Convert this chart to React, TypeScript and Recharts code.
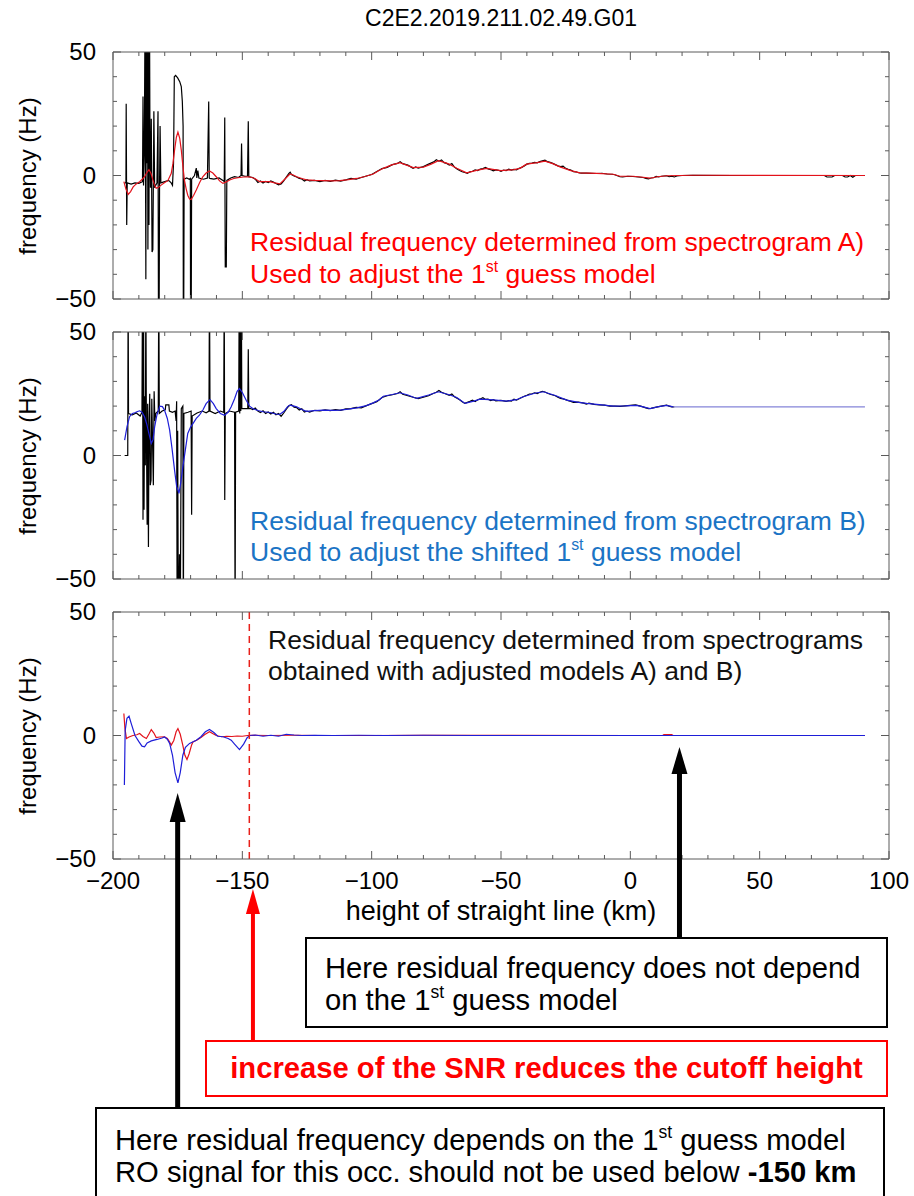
import { LineChart, Line, XAxis, YAxis, ReferenceLine } from "recharts";

type Pt = [number, number];

// height of straight line (km) / residual frequency (Hz)
const X_TICKS = [
  -200, -190, -180, -170, -160, -150, -140, -130, -120, -110, -100, -90, -80, -70, -60, -50,
  -40, -30, -20, -10, 0, 10, 20, 30, 40, 50, 60, 70, 80, 90, 100,
];
const Y_TICKS = [-50, -40, -30, -20, -10, 0, 10, 20, 30, 40, 50];

// panel A: raw residual (black) and smoothed (red)
const blackA: Pt[] = [
  [-195.5, -3], [-195.0, -3], [-194.9, 29], [-194.7, -20], [-194.5, -3], [-193, -3.5], [-191.5, -3],
  [-190, -3.2], [-188.6, -2.5], [-188.4, 32], [-188.2, -4], [-187.9, 8], [-187.6, 70], [-187.3, -42],
  [-187.1, 70], [-186.9, 5], [-186.7, 70], [-186.5, -30], [-186.3, 70], [-186.1, -20], [-185.9, 70],
  [-185.7, 10], [-185.5, -5], [-185.2, 23], [-184.9, -31], [-184.6, -30], [-184.4, -3], [-184.2, 26],
  [-183.9, -5], [-183.5, -4], [-183.0, -3], [-182.6, 26], [-182.4, -70], [-182.2, -70], [-182.0, -4],
  [-181.8, 20], [-181.5, -3], [-180, -2.5], [-178.5, -2], [-177.5, -3], [-177.0, -4], [-176.6, 5],
  [-176.3, 40], [-175.8, 40.5], [-175.0, 39.5], [-174.2, 38], [-173.6, 36], [-173.2, 30], [-172.9, 20],
  [-172.8, -70], [-172.7, -70], [-172.5, -1.5], [-171.5, -1], [-170.5, -1.5], [-170.1, -1.2],
  [-170.0, -70], [-169.8, -70], [-169.6, -1.5], [-168.5, 0], [-167.8, 3], [-167.6, -1], [-167.2, 2],
  [-166.8, -1], [-165, -1.5], [-163.5, -1], [-163.0, 30], [-162.8, -1], [-162.6, -1.2], [-161, -1.5],
  [-159, -1], [-157.5, -2], [-157.0, -2.5], [-156.8, 23.5], [-156.6, -37], [-156.4, -37], [-156.2, -37],
  [-156.0, -2], [-154.5, -1], [-153, -0.5], [-151.5, -0.8], [-150.5, 0], [-150.3, 13], [-150.1, 0],
  [-149, -0.3], [-148, -0.2], [-147.7, 22], [-147.5, -0.5], [-146, -0.8], [-145, -1.5], [-144, -2.8],
  [-143, -2.2], [-142, -3], [-141, -2.4], [-140, -2.9], [-139, -2.2], [-138, -2.6], [-137, -3.2],
  [-136, -3.8], [-135, -3.4], [-134, -2.2], [-133, -0.6], [-132, 0.8], [-131.5, 1.3], [-131, 0.4],
  [-130, -0.2], [-129, -0.6], [-128, -1.2], [-127, -1.4], [-126, -2.2], [-125, -1.7], [-124, -2.2],
  [-122, -2.0], [-120, -2.5], [-118, -2.0], [-116, -2.4], [-114, -1.9], [-112, -2.3], [-110, -1.8],
  [-108, -1.2], [-106, -1.5], [-104, -0.8], [-102, -0.2], [-100, 0.4], [-98, 1.6], [-96, 2.8],
  [-94, 3.3], [-92, 4.4], [-90, 4.9], [-89, 5.6], [-88, 4.8], [-86, 4.2], [-84, 2.9], [-83, 3.5],
  [-82, 3.0], [-80, 3.6], [-78, 4.6], [-76, 5.5], [-75, 6.4], [-74, 5.8], [-73, 6.3], [-72, 5.2],
  [-71, 4.9], [-70, 4.2], [-69, 4.8], [-68, 3.4], [-67, 2.6], [-66, 2.0], [-65, 1.5], [-64, 1.2],
  [-63, 0.9], [-62, 1.5], [-61, 1.7], [-60, 2.3], [-59, 2.0], [-58, 2.6], [-57, 2.8], [-56, 3.3],
  [-55, 2.7], [-54, 2.4], [-53, 1.9], [-52, 2.3], [-51, 2.1], [-50, 1.7], [-49, 2.2], [-48, 2.0],
  [-47, 2.6], [-46, 2.2], [-45, 2.5], [-44, 2.3], [-43, 2.9], [-42, 3.3], [-41, 3.9], [-40, 4.6],
  [-39, 4.9], [-38, 5.0], [-37, 5.3], [-36, 5.1], [-35, 5.6], [-34, 5.9], [-33, 6.2], [-32, 5.6],
  [-31, 5.3], [-30, 4.9], [-29, 4.4], [-28, 3.9], [-27, 3.6], [-26, 3.8], [-25, 2.9], [-24, 2.5],
  [-23, 2.2], [-22, 1.6], [-21, 1.5], [-20, 1.1], [-19, 1.0], [-17, 1.0], [-15, 0.9], [-13, 0.8],
  [-11, 0.9], [-9, 0.6], [-7, 0.5], [-6, 0.3], [-5, -0.1], [-4, -0.5], [-3, -0.6], [-1, -0.3],
  [1, -0.4], [3, -0.6], [5, -0.8], [6, -1.2], [7, -1.4], [8, -1.0], [9, -0.9], [10, -0.4],
  [11, -0.6], [12, -0.3], [14, -0.1], [15, -0.5], [16, -0.3], [17, -0.6], [18, -0.2], [20, 0],
  [24, 0.1], [40, 0], [60, 0], [75, 0], [76, -0.6], [78, -0.6], [79, 0], [82, 0], [83, -0.6],
  [84, -0.6], [85, 0], [86, -0.7], [87, 0], [90.7, 0],
];
const redA: Pt[] = [
  [-195.8, -2.5], [-195, -5.5], [-194.1, -7.6], [-193.2, -6.5], [-192.2, -4.6], [-191, -3.4],
  [-189.7, -2.5], [-188.7, -1.5], [-187.8, -0.5], [-187, 1], [-186.1, 2.4], [-185.3, 0.8],
  [-184.6, -1.8], [-183.9, -4], [-183.3, -5.2], [-182.4, -4.8], [-181.4, -3.9], [-180, -2.8],
  [-178.8, -2.1], [-177.5, 0.8], [-176.8, 5], [-176.2, 10.3], [-175.5, 15.5], [-174.9, 17.6],
  [-174.2, 15], [-173.6, 10.3], [-173, 4], [-172.4, -1.8], [-171.7, -5.5], [-171.1, -8],
  [-170.4, -9.5], [-169.8, -9.7], [-168.8, -8], [-167.8, -5.9], [-166.5, -2.8], [-165.3, -0.5],
  [-164, 1], [-162.7, 1.8], [-161.4, 1], [-160.1, -0.5], [-158.8, -2.2], [-157.5, -3.2],
  [-156.2, -2.6], [-154.9, -1.8], [-153.3, -1.2], [-151.7, -0.9], [-149.5, -0.6], [-147.2, -0.5],
  [-145.2, -1.2], [-143.3, -2.5], [-141.3, -2.5], [-139.4, -2.5], [-137.5, -3], [-135.5, -3.4],
  [-133.6, -1.5], [-131.6, 0.6], [-130.3, 0.2], [-129, -0.5], [-127, -1.2], [-125.2, -1.8],
  [-122, -2], [-118.7, -2.1], [-115.5, -2.2], [-112.3, -2.1], [-109, -1.7], [-105.8, -1.2],
  [-102.6, -0.4], [-99.4, 0.6], [-97.5, 1.8], [-95.5, 2.9], [-92.5, 4.2], [-89.1, 5.2],
  [-86.5, 4.2], [-83.9, 3.2], [-80, 3.4], [-77, 4.6], [-74.2, 6], [-72, 5.3], [-70, 4.6],
  [-67.1, 2.9], [-63.3, 1.1], [-59, 2.2], [-55.6, 2.9], [-50, 2.0], [-45, 2.4], [-42.7, 2.9],
  [-40.1, 4.6], [-36, 5.2], [-33, 5.8], [-30, 4.8], [-27.2, 3.5], [-23, 2.0], [-19.5, 1.1],
  [-13, 0.9], [-6.6, 0.5], [-4, -0.3], [1.1, -0.3], [4, -0.6], [7.6, -1.1], [10.5, -0.5],
  [14, -0.1], [24.3, 0.1], [90.7, 0],
];

// panel B: raw residual (black) and smoothed (blue)
const blackB: Pt[] = [
  [-195.5, 0], [-194.3, 0], [-194.15, 70], [-194.0, 17], [-192.5, 16.5], [-191, 17.2], [-189.5, 16],
  [-188.8, 17.5], [-188.6, 70], [-188.4, -26], [-188.2, 70], [-188.0, -22], [-187.8, 24], [-187.5, -4],
  [-187.3, 70], [-187.1, 12], [-186.8, -28], [-186.6, 21], [-186.3, -37], [-186.1, 10], [-185.8, 25],
  [-185.6, -12], [-185.3, -10], [-185.0, 23], [-184.7, 5], [-184.4, -12], [-184.1, 26], [-183.8, 14],
  [-183.5, 17], [-182.5, 18], [-182.3, 70], [-182.1, 17], [-181, 18], [-179.8, 18.5], [-179.6, 20.5],
  [-178.4, 20.5], [-178.2, 18], [-177, 17.5], [-176, 18], [-175.6, 14], [-175.4, 22], [-175.2, -70],
  [-175.0, 10], [-174.8, -50], [-174.6, -70], [-174.3, -40], [-174.0, -70], [-173.6, 19], [-173.0, 20],
  [-172.8, -70], [-172.6, 17], [-171, 17.5], [-169.8, 18], [-169.6, -24], [-169.4, 16], [-167.5, 17.2],
  [-165.5, 18], [-164, 17.3], [-162.9, 18], [-162.7, 70], [-162.5, 18], [-160.5, 17], [-158.5, 18],
  [-157.2, 17.5], [-157.0, 70], [-156.8, -18], [-156.6, 17], [-155, 18], [-153, 17.5], [-152.8, -70],
  [-152.6, 17.5], [-151.4, 18], [-151.2, 70], [-151.0, 17], [-150.8, 70], [-150.6, 18], [-150.4, 70],
  [-150.2, 19], [-148.5, 19], [-147.9, 19], [-147.7, 43], [-147.5, 19], [-146.8, 19], [-146, 18.6],
  [-145, 19.2], [-144, 18.0], [-143, 17.4], [-142, 18.1], [-141, 17.0], [-140, 17.6], [-139, 16.8],
  [-138, 17.5], [-137, 16.5], [-136, 17.0], [-135, 15.9], [-134, 17.2], [-133, 18.8], [-132, 20.1],
  [-131, 20.6], [-130, 19.6], [-129, 19.4], [-128, 18.4], [-127, 18.9], [-126, 17.6], [-125, 18.0],
  [-124, 17.6], [-122, 18.3], [-120, 18.1], [-118, 18.5], [-116, 18.2], [-114, 18.6], [-112, 18.3],
  [-110, 18.9], [-108, 19.0], [-106, 19.5], [-104, 19.3], [-102, 20.2], [-100, 21.0], [-98, 21.8],
  [-96, 23.5], [-94, 24.2], [-92, 24.6], [-90, 25.1], [-89, 25.8], [-88, 24.8], [-86, 24.2],
  [-84, 23.6], [-82, 23.0], [-80, 23.6], [-78, 24.2], [-76, 25.2], [-75, 25.6], [-74, 26.3],
  [-73, 25.6], [-72, 25.2], [-70, 24.4], [-69, 24.9], [-68, 23.8], [-67, 23.2], [-66, 22.6],
  [-65, 21.8], [-64, 21.1], [-63, 21.5], [-62, 21.9], [-61, 22.4], [-60, 21.8], [-59, 22.6],
  [-58, 22.9], [-57, 23.4], [-56, 22.7], [-55, 22.8], [-54, 22.2], [-53, 22.6], [-52, 22.1],
  [-50, 22.3], [-48, 21.9], [-47, 22.2], [-46, 22.0], [-45, 22.8], [-44, 22.4], [-43, 23.0],
  [-42, 23.5], [-41, 24.0], [-40, 24.4], [-39, 24.9], [-38, 25.0], [-37, 25.4], [-36, 25.1],
  [-35, 25.6], [-34, 26.0], [-33, 25.7], [-32, 25.2], [-31, 24.8], [-30, 24.5], [-29, 24.2],
  [-28, 23.6], [-27, 23.1], [-26, 22.9], [-25, 22.6], [-24, 22.2], [-23, 21.9], [-22, 21.5],
  [-20, 21.6], [-18, 21.2], [-17, 20.8], [-16, 21.2], [-14, 20.7], [-12, 20.5], [-10, 20.4],
  [-8, 20.0], [-6, 20.0], [-4, 19.9], [-2, 20.1], [0, 20.3], [2, 20.5], [4, 20.0], [6, 19.3],
  [7, 19.0], [8, 19.1], [10, 19.6], [12, 20.0], [14, 20.4], [15, 20.0], [16, 19.7], [17, 19.7],
];
const blueB: Pt[] = [
  [-195.5, 6.2], [-194.6, 11.6], [-193.6, 15.7], [-192.5, 17], [-191.6, 17.3], [-190.5, 17.8],
  [-189.7, 18.1], [-188.8, 17.5], [-187.8, 15.7], [-186.9, 12.5], [-186.1, 8.9], [-185.2, 4.9],
  [-184.5, 6.5], [-183.9, 11.6], [-183, 16.5], [-181.9, 20], [-180.9, 19.8], [-180.1, 18.4],
  [-179, 15], [-178.1, 10.3], [-177.2, 3], [-176.2, -5.9], [-175.4, -12.5], [-174.5, -15.3],
  [-173.8, -11], [-173, -4.6], [-172, 2.5], [-171.1, 8.9], [-170, 11.5], [-169.1, 12.9],
  [-167.8, 15], [-166.6, 16.3], [-165.2, 18.5], [-164, 21], [-162.5, 22.6], [-161.2, 21],
  [-160.1, 19], [-158.5, 17], [-156.9, 16.3], [-155.5, 17.5], [-154.3, 19.7], [-153, 23],
  [-152, 26], [-151.1, 27.1], [-150, 25.5], [-148.5, 22.4], [-147.2, 20], [-146, 19],
  [-144, 18.2], [-142, 17.7], [-140, 17.5], [-138.9, 17.3], [-137, 16.8], [-135.6, 16.6],
  [-134, 17.8], [-132.5, 19.8], [-131.6, 20.4], [-130, 20], [-129, 19.7], [-127, 18.6],
  [-125.2, 17.9], [-122, 18.2], [-118.7, 18.4], [-115, 18.3], [-112.3, 18.4], [-109, 18.8],
  [-105.8, 19.3], [-102, 20.2], [-99.4, 21.3], [-97, 22.6], [-95.5, 24], [-92, 24.7],
  [-89.1, 25.4], [-86, 24.5], [-82.6, 23.1], [-78, 24.5], [-74.2, 25.8], [-70, 24.6],
  [-67.1, 23.5], [-63.9, 21.1], [-60.5, 22], [-58.1, 22.8], [-53, 22.5], [-47.8, 22],
  [-44, 22.6], [-41.4, 23.8], [-37, 25.2], [-33.6, 25.8], [-29, 24.3], [-24.6, 22.4],
  [-20, 21.5], [-16.9, 21.1], [-12, 20.6], [-6.6, 20], [-2, 20.1], [2.4, 20.3], [5, 19.7],
  [7.6, 19], [11, 19.8], [14, 20.3], [16.6, 19.7],
];
// the model-only tail of B, drawn paler in the reference
const blueBTail: Pt[] = [[16.6, 19.7], [90.7, 19.7]];

// panel C: residuals with adjusted models A) (red) and B) (blue)
const redC: Pt[] = [
  [-195.8, 8.9], [-195.4, 3], [-194.8, -1.2], [-193.8, -0.6], [-192.3, 0], [-190.8, 0.3],
  [-189.7, 0.8], [-188.4, -0.4], [-187.1, -1.2], [-186.1, 0.6], [-185.2, 2.4], [-184.2, 1],
  [-183.3, -0.8], [-182, -0.6], [-180.1, -0.5], [-179, -1.2], [-178.2, -2.5], [-177.5, -3.9],
  [-176.5, -2], [-175.6, 1.5], [-174.9, 2.8], [-174, 0.5], [-173, -4], [-172.2, -8],
  [-171.4, -9.7], [-170.6, -7.5], [-169.6, -3.8], [-169.1, -2.6], [-167.5, -1.8], [-166, -0.8],
  [-164.5, 0.4], [-162.7, 1.5], [-161.5, 0.8], [-160.1, 0], [-158, -0.5], [-156, -0.3],
  [-154, -0.4], [-152, -0.2], [-150, -0.3], [-148, 0], [-146, 0.1], [-140, 0], [-130, 0.1],
  [-120, 0], [-100, 0], [-80, 0.1], [0, 0], [12.5, 0], [13, 0.4], [16, 0.4], [16.5, 0], [90.7, 0],
];
const blueC: Pt[] = [
  [-195.6, -20], [-195.3, 2], [-194.6, 7], [-193.8, 7.8], [-193, 5], [-191.5, 0], [-190, -2.5],
  [-188.8, -4.3], [-187.8, -4.6], [-186.8, -3], [-185.2, -2.2], [-183, -1.6], [-181, -1],
  [-180.1, -0.6], [-179, -1.5], [-178.1, -3.2], [-177, -8], [-176, -15], [-174.9, -19.2],
  [-174, -15], [-173, -8], [-172, -4.8], [-170.4, -3.2], [-169, -2.5], [-167.8, -1.9],
  [-166, -0.5], [-164.3, 1.5], [-162.7, 2.4], [-161, 1.2], [-159.5, -0.3], [-157.5, -0.5],
  [-155.5, -1.2], [-154.3, -1.9], [-153, -3.5], [-151.1, -5.7], [-149.5, -3.5], [-148.2, -1],
  [-147.2, 0], [-145, 0.2], [-142, -0.3], [-139, 0.1], [-136, -0.3], [-133, 0.5], [-130, 0.2],
  [-127, 0], [-122, 0.1], [-115, 0], [-105, 0.1], [-95, 0], [-80, 0.1], [-60, 0], [0, 0], [90.7, 0],
];

const CUTOFF_KM = -147.3;
const ARROW_LOW_KM = -175;
const ARROW_HIGH_KM = 19;
const ARROW_SNR_KM = -145.9;

const W = 914;
const LEFT = 113;
const PLOT_W = 776;
const PLOT_H = 247;
const X_MIN = -200;
const X_MAX = 100;
const FRAME = "#5a5a5a";
const FONT = '"Liberation Sans", Arial, Helvetica, sans-serif';
const RED = "#ff0000";
const BLUE_TEXT = "#1b74c5";

const kmToPx = (km: number) => LEFT + ((km - X_MIN) / (X_MAX - X_MIN)) * PLOT_W;
const rows = (pts: Pt[]) => pts.map(([km, hz]) => ({ km, hz }));
const fmt = (v: number) => (v < 0 ? "\u2212" + Math.abs(v) : String(v));

const xTick = (side: "bottom" | "top", labels: boolean) => (p: any) => {
  const v = p.payload.value;
  const major = v % 50 === 0;
  const len = major ? 8 : 4;
  const dir = side === "bottom" ? -1 : 1;
  return (
    <g>
      <line x1={p.x} x2={p.x} y1={p.y} y2={p.y + dir * len} stroke={FRAME} />
      {labels && major && (
        <text x={p.x} y={p.y + 30} textAnchor="middle" fontSize={24} fontFamily={FONT} fill="#000">
          {fmt(v)}
        </text>
      )}
    </g>
  );
};

const yTick = (side: "left" | "right") => (p: any) => {
  const v = p.payload.value;
  const major = v % 50 === 0;
  const len = major ? 8 : 4;
  const dir = side === "left" ? 1 : -1;
  return (
    <g>
      <line x1={p.x} x2={p.x + dir * len} y1={p.y} y2={p.y} stroke={FRAME} />
      {side === "left" && major && (
        <text x={p.x - 17} y={p.y + 8} textAnchor="end" fontSize={24} fontFamily={FONT} fill="#000">
          {fmt(v)}
        </text>
      )}
    </g>
  );
};

type Series = { pts: Pt[]; color: string; width: number };

// axes get a 1px band (zero-size axes are not drawn), so margins are 1px smaller
function Panel({ top, series, xLabels, cutoff }: { top: number; series: Series[]; xLabels?: boolean; cutoff?: number }) {
  const padTop = 20;
  const padBottom = xLabels ? 50 : 16;
  return (
    <div style={{ position: "absolute", left: 0, top: top - padTop }}>
      <LineChart
        width={W}
        height={PLOT_H + padTop + padBottom}
        margin={{ top: padTop - 1, right: W - LEFT - PLOT_W - 1, bottom: padBottom - 1, left: LEFT - 1 }}
      >
        <XAxis xAxisId="b" type="number" dataKey="km" domain={[X_MIN, X_MAX]} allowDataOverflow ticks={X_TICKS}
          interval={0} height={1} tickSize={0} tickMargin={0} tickLine={false}
          axisLine={{ stroke: FRAME }} tick={xTick("bottom", !!xLabels)} />
        <XAxis xAxisId="t" orientation="top" type="number" dataKey="km" domain={[X_MIN, X_MAX]} allowDataOverflow
          ticks={X_TICKS} interval={0} height={1} tickSize={0} tickMargin={0} tickLine={false}
          axisLine={{ stroke: FRAME }} tick={xTick("top", false)} />
        <YAxis yAxisId="l" type="number" domain={[-50, 50]} allowDataOverflow ticks={Y_TICKS} interval={0}
          width={1} tickSize={0} tickMargin={0} tickLine={false} axisLine={{ stroke: FRAME }} tick={yTick("left")} />
        <YAxis yAxisId="r" orientation="right" type="number" domain={[-50, 50]} allowDataOverflow ticks={Y_TICKS}
          interval={0} width={1} tickSize={0} tickMargin={0} tickLine={false} axisLine={{ stroke: FRAME }}
          tick={yTick("right")} />
        {series.map((s, i) => (
          <Line key={i} xAxisId="b" yAxisId="l" data={rows(s.pts)} dataKey="hz" type="linear"
            stroke={s.color} strokeWidth={s.width} dot={false} activeDot={false} isAnimationActive={false} />
        ))}
        {cutoff !== undefined && (
          <ReferenceLine xAxisId="b" yAxisId="l" x={cutoff} stroke="#e8201a" strokeWidth={1.5} strokeDasharray="7 5" />
        )}
      </LineChart>
      <div style={{
        position: "absolute", left: 28, top: padTop + PLOT_H / 2, transform: "translate(-50%, -50%) rotate(-90deg)",
        fontFamily: FONT, fontSize: 24, whiteSpace: "nowrap",
      }}>
        frequency (Hz)
      </div>
    </div>
  );
}

const sup = (t: string) => (
  <span style={{ fontSize: "0.6em", verticalAlign: "0.7em", lineHeight: 0 }}>{t}</span>
);

function Arrow({ x, tip, base, color, shaft, head, headLen }: { x: number; tip: number; base: number; color: string; shaft: number; head: number; headLen: number }) {
  return (
    <g>
      <line x1={x} x2={x} y1={base} y2={tip + headLen - 1} stroke={color} strokeWidth={shaft} />
      <polygon points={`${x},${tip} ${x - head / 2},${tip + headLen} ${x + head / 2},${tip + headLen}`} fill={color} />
    </g>
  );
}

export default function App() {
  const text = { position: "absolute" as const, fontFamily: FONT, whiteSpace: "nowrap" as const };
  return (
    <div style={{ position: "absolute", left: 0, top: 0, width: W, height: 1196, overflow: "hidden", background: "#fff" }}>
      <div style={{ ...text, left: LEFT, width: PLOT_W, top: 5, fontSize: 23, textAlign: "center" }}>
        C2E2.2019.211.02.49.G01
      </div>

      <Panel top={52} series={[{ pts: blackA, color: "#000", width: 1.2 }, { pts: redA, color: "#e3121b", width: 1.2 }]} />
      <Panel top={332} series={[
        { pts: blackB, color: "#000", width: 1.2 },
        { pts: blueB, color: "#1e1ed8", width: 1.2 },
        { pts: blueBTail, color: "#8484d8", width: 1.4 },
      ]} />
      <Panel top={612} xLabels cutoff={CUTOFF_KM}
        series={[{ pts: redC, color: "#e3121b", width: 1.2 }, { pts: blueC, color: "#1e1ed8", width: 1.2 }]} />

      <div style={{ ...text, left: LEFT, width: PLOT_W, top: 896, fontSize: 27, textAlign: "center" }}>
        height of straight line (km)
      </div>

      <div style={{ ...text, left: 250, top: 226, fontSize: 26.5, lineHeight: "32px", color: RED }}>
        Residual frequency determined from spectrogram A)<br />
        Used to adjust the 1{sup("st")} guess model
      </div>
      <div style={{ ...text, left: 250, top: 506, fontSize: 26.5, lineHeight: "31px", color: BLUE_TEXT }}>
        Residual frequency determined from spectrogram B)<br />
        Used to adjust the shifted 1{sup("st")} guess model
      </div>
      <div style={{ ...text, left: 268, top: 625, fontSize: 26.5, lineHeight: "31px", color: "#111" }}>
        Residual frequency determined from spectrograms<br />
        obtained with adjusted models A) and B)
      </div>

      <svg width={W} height={1196} style={{ position: "absolute", left: 0, top: 0, pointerEvents: "none" }}>
        <Arrow x={kmToPx(ARROW_LOW_KM)} tip={793} base={1108} color="#000" shaft={5} head={16} headLen={29} />
        <Arrow x={kmToPx(ARROW_HIGH_KM)} tip={747} base={938} color="#000" shaft={5} head={16} headLen={27} />
        <Arrow x={kmToPx(ARROW_SNR_KM)} tip={889} base={1041} color={RED} shaft={4} head={14} headLen={25} />
      </svg>

      <div style={{
        position: "absolute", left: 305, top: 937, width: 583, height: 91, border: "2px solid #000",
        fontFamily: FONT, fontSize: 29.2, lineHeight: "32px", padding: "13px 0 0 18px", boxSizing: "border-box",
        whiteSpace: "nowrap", background: "#fff",
      }}>
        Here residual frequency does not depend<br />
        on the 1{sup("st")} guess model
      </div>
      <div style={{
        position: "absolute", left: 205, top: 1040, width: 683, height: 57, border: `2px solid ${RED}`,
        fontFamily: FONT, fontSize: 29.2, fontWeight: 700, color: RED, lineHeight: "53px", textAlign: "center",
        boxSizing: "border-box", whiteSpace: "nowrap", background: "#fff",
      }}>
        increase of the SNR reduces the cutoff height
      </div>
      <div style={{
        position: "absolute", left: 95, top: 1107, width: 790, height: 110, border: "2px solid #000",
        fontFamily: FONT, fontSize: 29.2, lineHeight: "32px", padding: "15px 0 0 18px", boxSizing: "border-box",
        whiteSpace: "nowrap", background: "#fff",
      }}>
        Here residual frequency depends on the 1{sup("st")} guess model<br />
        RO signal for this occ. should not be used below <b>-150 km</b>
      </div>
    </div>
  );
}
